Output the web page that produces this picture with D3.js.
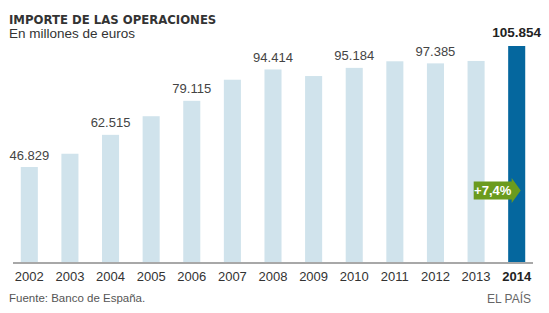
<!DOCTYPE html>
<html>
<head>
<meta charset="utf-8">
<script src="https://cdn.jsdelivr.net/npm/d3@7"></script>
<style>
  body { margin: 0; background: #ffffff; }
  svg { display: block; }
</style>
</head>
<body>
<div id="chart"></div>
<script>
// Data
var years = ["2002", "2003", "2004", "2005", "2006", "2007", "2008", "2009", "2010", "2011", "2012", "2013", "2014"];
var values = [46.829, 53.3, 62.515, 71.6, 79.115, 89.4, 94.414, 91.2, 95.184, 98.4, 97.385, 98.56, 105.854];
var labelled = ["2002", "2004", "2006", "2008", "2010", "2012", "2014"];
var highlight = "2014";
var changeLabel = "+7,4%";

var width = 549, height = 313;
var baseline = 263;

var data = years.map(function(y, i) { return { year: y, value: values[i] }; });

var svg = d3.select('#chart')
    .append('svg')
    .attr('width', width)
    .attr('height', height);

var x = d3.scaleBand()
    .domain(years)
    .range([9, 537])
    .paddingInner(0.58)
    .paddingOuter(0.29);

var y = d3.scaleLinear()
    .domain([0, 110])
    .range([baseline, 37.5]);

function fmt(v) { return d3.format(".3f")(v).replace(",", "."); }

// Title and subtitle
svg.append('text')
    .attr('x', 9).attr('y', 24)
    .style('font-family', 'DejaVu Sans')
    .style('font-weight', 'bold')
    .style('font-size', '11.7px')
    .style('fill', '#333')
    .text('IMPORTE DE LAS OPERACIONES');

svg.append('text')
    .attr('x', 9).attr('y', 38)
    .style('font-family', 'Liberation Sans, Arial')
    .style('font-size', '13.5px')
    .style('fill', '#333')
    .text('En millones de euros');

// Bars
svg.selectAll('.bar')
    .data(data)
    .enter().append('rect')
    .attr('class', 'bar')
    .attr('x', function(d) { return x(d.year); })
    .attr('width', x.bandwidth())
    .attr('y', function(d) { return y(d.value); })
    .attr('height', function(d) { return baseline - y(d.value); })
    .attr('fill', function(d) { return d.year === highlight ? '#05679e' : '#d0e3ec'; });

// Value labels
svg.selectAll('.val')
    .data(data.filter(function(d) { return labelled.indexOf(d.year) >= 0; }))
    .enter().append('text')
    .attr('class', 'val')
    .attr('x', function(d) { return x(d.year) + x.bandwidth() / 2; })
    .attr('y', function(d) { return y(d.value) - (d.year === highlight ? 9 : 7.5); })
    .attr('text-anchor', 'middle')
    .style('font-family', 'Liberation Sans, Arial')
    .style('font-size', function(d) { return d.year === highlight ? '13.5px' : '13px'; })
    .style('font-weight', function(d) { return d.year === highlight ? 'bold' : 'normal'; })
    .style('fill', function(d) { return d.year === highlight ? '#222' : '#444'; })
    .text(function(d) { return fmt(d.value); });

// Axis line
svg.append('line')
    .attr('x1', 13).attr('x2', 533)
    .attr('y1', baseline).attr('y2', baseline)
    .style('stroke', '#a8a8a8')
    .style('stroke-width', 2);

// Year labels
svg.selectAll('.year')
    .data(years)
    .enter().append('text')
    .attr('class', 'year')
    .attr('x', function(d) { return x(d) + x.bandwidth() / 2; })
    .attr('y', 281)
    .attr('text-anchor', 'middle')
    .style('font-family', 'Liberation Sans, Arial')
    .style('font-size', '13px')
    .style('font-weight', function(d) { return d === highlight ? 'bold' : 'normal'; })
    .style('fill', function(d) { return d === highlight ? '#222' : '#333'; })
    .text(function(d) { return d; });

// Green arrow with the yearly change
var tipX = x(highlight) + x.bandwidth() / 2 + 4;
var midY = 190.5;
var arrow = d3.path();
arrow.moveTo(tipX - 47, midY - 9);
arrow.lineTo(tipX - 9, midY - 9);
arrow.lineTo(tipX - 9, midY - 12.5);
arrow.lineTo(tipX, midY);
arrow.lineTo(tipX - 9, midY + 12.5);
arrow.lineTo(tipX - 9, midY + 9);
arrow.lineTo(tipX - 47, midY + 9);
arrow.closePath();

svg.append('path')
    .attr('d', arrow.toString())
    .attr('fill', '#6b9b1e');

svg.append('text')
    .attr('x', tipX - 28)
    .attr('y', midY + 4.5)
    .attr('text-anchor', 'middle')
    .style('font-family', 'Liberation Sans, Arial')
    .style('font-size', '13px')
    .style('font-weight', 'bold')
    .style('fill', '#ffffff')
    .text(changeLabel);

// Footer
svg.append('text')
    .attr('x', 9).attr('y', 302)
    .style('font-family', 'Liberation Sans, Arial')
    .style('font-size', '11.5px')
    .style('fill', '#555')
    .text('Fuente: Banco de España.');

svg.append('text')
    .attr('x', 531).attr('y', 303)
    .attr('text-anchor', 'end')
    .style('font-family', 'Liberation Sans, Arial')
    .style('font-size', '12px')
    .style('fill', '#666')
    .text('EL PAÍS');
</script>
</body>
</html>
